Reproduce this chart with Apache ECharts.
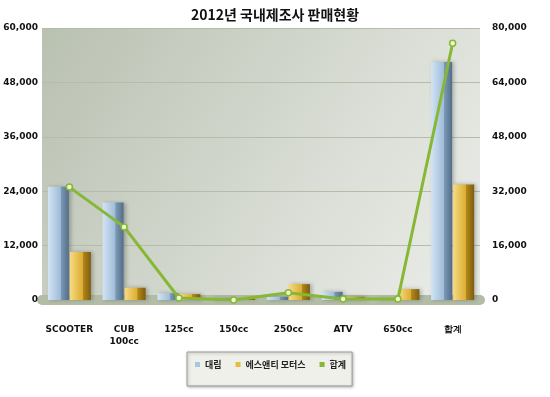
<!DOCTYPE html>
<html>
<head>
<meta charset="utf-8">
<script src="https://cdn.jsdelivr.net/npm/echarts@6/dist/echarts.min.js"></script>
<style>
  html, body { margin: 0; padding: 0; background: #fff; }
  #chart { width: 550px; height: 397px; }
</style>
</head>
<body>
<div id="chart"></div>
<script>
// data
const categories = ['SCOOTER', 'CUB\n100cc', '125cc', '150cc', '250cc', 'ATV', '650cc', '합계']
const daelim = [25000, 21500, 1500, 400, 700, 1800, 300, 52500]
const snt = [10600, 2700, 1300, 300, 3500, 700, 2400, 25500]
const total = [33200, 21500, 600, 0, 2100, 300, 300, 75500]

const leftTicks = { min: 0, max: 60000, interval: 12000 }
const rightTicks = { min: 0, max: 80000, interval: 16000 }

const fmt = v => v.toLocaleString('en-US')
const labelFont = { fontFamily: 'DejaVu Sans', fontWeight: 'bold', fontSize: 9, color: '#111' }

const chart = echarts.init(document.getElementById('chart'))

chart.setOption({
  animation: false,
  title: {
    text: '2012년 국내제조사 판매현황',
    left: 'center',
    top: 3,
    textStyle: { fontFamily: 'Noto Sans CJK KR', fontWeight: 'bold', fontSize: 14, color: '#111' }
  },
  grid: {
    left: 42,
    right: 70,
    top: 28,
    bottom: 97,
    show: true,
    borderWidth: 0,
    backgroundColor: new echarts.graphic.LinearGradient(0, 0, 1, 1, [
      { offset: 0, color: '#b9c1b1' },
      { offset: 0.6, color: '#d9ddd5' },
      { offset: 1, color: '#eceee9' }
    ])
  },
  legend: {
    data: [
      { name: '대림', icon: 'rect', itemStyle: { color: '#a9c6e2' } },
      { name: '에스앤티 모터스', icon: 'rect', itemStyle: { color: '#e9bd3c' } },
      { name: '합계', icon: 'rect', itemStyle: { color: '#86b735', borderWidth: 0 } }
    ],
    left: 187,
    top: 352,
    width: 240,
    itemWidth: 5,
    itemHeight: 5,
    itemGap: 14,
    padding: [8, 6, 17, 8],
    backgroundColor: '#eef0e9',
    borderColor: '#9a9a9a',
    borderWidth: 1,
    shadowColor: 'rgba(0,0,0,0.3)',
    shadowBlur: 3,
    shadowOffsetX: 1,
    shadowOffsetY: 1,
    textStyle: { fontFamily: 'Noto Sans CJK KR', fontWeight: 'bold', fontSize: 9, color: '#222' }
  },
  xAxis: {
    type: 'category',
    data: categories,
    offset: 6,
    axisTick: { show: false },
    axisLine: { lineStyle: { color: '#b2bca6', width: 10 } },
    axisLabel: Object.assign({ interval: 0, margin: 18, lineHeight: 12 }, labelFont)
  },
  yAxis: [
    {
      type: 'value',
      min: leftTicks.min,
      max: leftTicks.max,
      interval: leftTicks.interval,
      axisLine: { show: false },
      axisTick: { show: false },
      splitLine: { lineStyle: { color: '#b4bda8', width: 1 } },
      axisLabel: Object.assign({ formatter: fmt, margin: 4 }, labelFont)
    },
    {
      type: 'value',
      min: rightTicks.min,
      max: rightTicks.max,
      interval: rightTicks.interval,
      axisLine: { show: false },
      axisTick: { show: false },
      splitLine: { show: false },
      axisLabel: Object.assign({ formatter: fmt, margin: 12 }, labelFont)
    }
  ],
  series: [
    {
      name: '대림',
      type: 'bar',
      data: daelim,
      barWidth: 21,
      barGap: '5%',
      itemStyle: {
        color: new echarts.graphic.LinearGradient(0, 0, 1, 0, [
          { offset: 0, color: '#d3e4f3' },
          { offset: 0.6, color: '#9fbcd8' },
          { offset: 0.62, color: '#7d9ab6' },
          { offset: 1, color: '#536d87' }
        ]),
        shadowColor: 'rgba(0,0,0,0.25)',
        shadowBlur: 4,
        shadowOffsetX: 2
      }
    },
    {
      name: '에스앤티 모터스',
      type: 'bar',
      data: snt,
      barWidth: 21,
      itemStyle: {
        color: new echarts.graphic.LinearGradient(0, 0, 1, 0, [
          { offset: 0, color: '#f7da82' },
          { offset: 0.6, color: '#dcae32' },
          { offset: 0.62, color: '#b3881c' },
          { offset: 1, color: '#7d5c0c' }
        ]),
        shadowColor: 'rgba(0,0,0,0.25)',
        shadowBlur: 4,
        shadowOffsetX: 2
      }
    },
    {
      name: '합계',
      type: 'line',
      yAxisIndex: 1,
      data: total,
      symbol: 'circle',
      symbolSize: 6,
      z: 5,
      lineStyle: { color: '#86b735', width: 3 },
      itemStyle: { color: '#eef6cf', borderColor: '#86b735', borderWidth: 1.5 }
    }
  ]
})
</script>
</body>
</html>
